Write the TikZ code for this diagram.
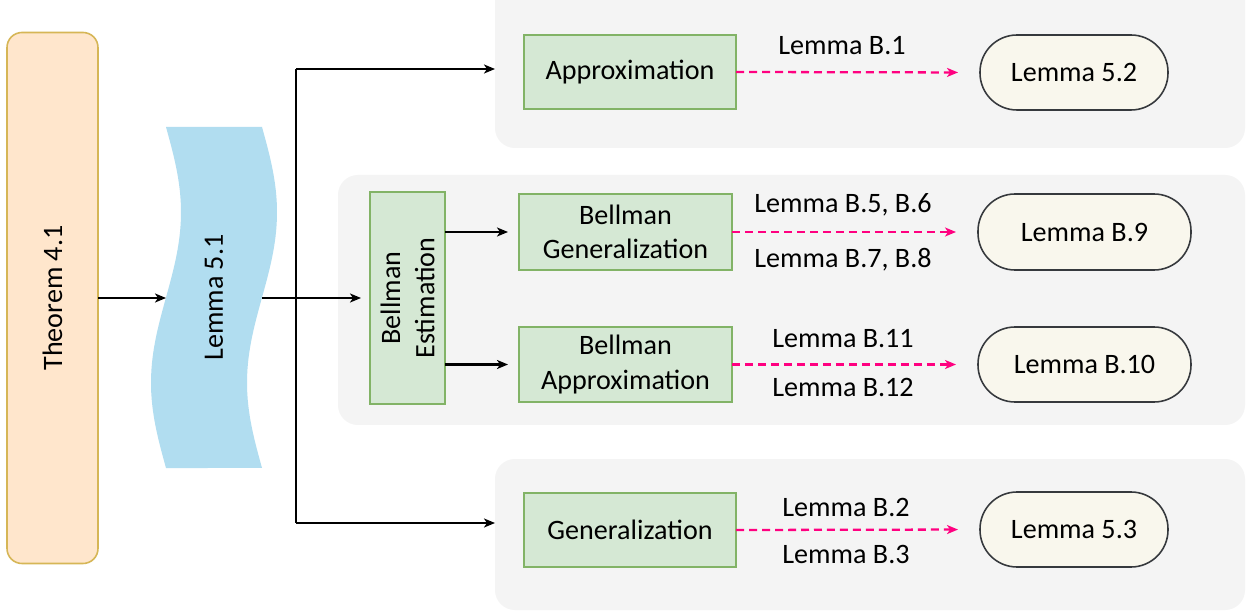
\documentclass[tikz,border=0pt]{standalone}
\usepackage{fontspec}
\setmainfont{Carlito}
\usetikzlibrary{arrows.meta}
\definecolor{grpF}{HTML}{F4F4F4}
\definecolor{grnF}{HTML}{D5E8D4}
\definecolor{grnD}{HTML}{82B366}
\definecolor{ovF}{HTML}{F9F7ED}
\definecolor{ovD}{HTML}{36393D}
\definecolor{thF}{HTML}{FFE6CC}
\definecolor{thD}{HTML}{D6B656}
\definecolor{blu}{HTML}{B1DDF0}
\definecolor{pnk}{HTML}{FF0080}
\begin{document}
\begin{tikzpicture}[x=0.02cm,y=-0.02cm,
  every node/.style={font=\fontsize{16}{19.5}\selectfont, inner sep=0pt, outer sep=0pt},
  grp/.style={fill=grpF, draw=none, rounded corners=0.4cm},
  grnbox/.style={draw=grnD, fill=grnF, line width=0.9pt, align=center},
  oval/.style={draw=ovD, fill=ovF, line width=0.9pt, rounded corners=0.74cm, align=center},
  thmbox/.style={draw=thD, fill=thF, line width=0.9pt, rounded corners=0.3cm},
  conn/.style={line width=1.3pt, black},
  arr/.style={conn, -{Stealth[length=0.22cm, width=0.18cm, inset=0.06cm]}},
  darr/.style={line width=1.3pt, pnk, dash pattern=on 0.16cm off 0.1cm,
     -{Stealth[length=0.22cm, width=0.18cm, inset=0.06cm]}},
  lbl/.style={anchor=center}
]
\clip (0,0) rectangle (1250,614);
\fill[white] (0,0) rectangle (1250,614);

% group backgrounds
\path[grp] (495,-40) rectangle (1245,148);
\path[grp] (338,175) rectangle (1245,425);
\path[grp] (495,459) rectangle (1245,610);

% Theorem 4.1
\node[thmbox, minimum width=91*0.02cm, minimum height=531*0.02cm] (thm) at (52.5,298) {};
\node[rotate=90] (thmt) at (thm.center) {Theorem 4.1};

% Lemma 5.1 wave band
\fill[blu] (166,127) -- (262,127)
  -- plot[domain=127:468, samples=60, variable=\t] ({262+15*sin((\t-127)/341*360)},\t)
  -- (166,468)
  -- plot[domain=468:127, samples=60, variable=\t] ({166+15*sin((\t-127)/341*360)},\t)
  -- cycle;
\node[minimum width=96*0.02cm, minimum height=341*0.02cm] (lem51) at (214,298) {};
\node[rotate=90] (lem51t) at (214,297.5) {Lemma 5.1};

% green boxes
\node[grnbox, minimum width=212*0.02cm, minimum height=74*0.02cm] (appr) at (630,72) {Approximation};
\node[grnbox, minimum width=75*0.02cm, minimum height=212*0.02cm] (best) at (407.5,298) {};
\node[rotate=90, align=center] (bestt) at (best.center) {Bellman\\Estimation};
\node[grnbox, minimum width=213*0.02cm, minimum height=76*0.02cm] (bgen) at (625.5,232) {Bellman\\Generalization};
\node[grnbox, minimum width=213*0.02cm, minimum height=75*0.02cm] (bapp) at (625.5,364.5) {Bellman\\Approximation};
\node[grnbox, minimum width=212*0.02cm, minimum height=74*0.02cm] (gen) at (630,530) {Generalization};

% result ovals
\node[oval, minimum width=188*0.02cm, minimum height=75*0.02cm] (l52) at (1074,72.5) {Lemma 5.2};
\node[oval, minimum width=213*0.02cm, minimum height=76*0.02cm] (lb9) at (1084.5,232) {Lemma B.9};
\node[oval, minimum width=213*0.02cm, minimum height=75*0.02cm] (lb10) at (1084.5,364.5) {Lemma B.10};
\node[oval, minimum width=188*0.02cm, minimum height=75*0.02cm] (l53) at (1074,529.5) {Lemma 5.3};

% junction coordinates
\coordinate (J) at (296,298);
\coordinate (jt) at (296,69);
\coordinate (jb) at (296,523);
\coordinate (ea) at (495,69);
\coordinate (eg) at (495,523);

% black connectors
\draw[arr] (thm.east) -- (lem51.west);
\draw[conn] (lem51.east) -- (J);
\draw[conn] (jt) -- (jb);
\draw[arr] (jt) -- (ea);
\draw[arr] (jb) -- (eg);
\draw[arr, shorten >=0.18cm] (J) -- (best.west);
\draw[arr, shorten >=0.22cm] (best.east |- bgen.west) -- (bgen.west);
\draw[arr, shorten >=0.22cm] (best.east |- bapp.west) -- (bapp.west);

% dashed pink connectors
\draw[darr, shorten >=0.44cm] (appr.east) -- (l52.west);
\draw[darr, shorten >=0.44cm] (bgen.east) -- (lb9.west);
\draw[darr, shorten >=0.44cm] (bapp.east) -- (lb10.west);
\draw[darr, shorten >=0.44cm] (gen.east) -- (l53.west);

% labels
\node[lbl] (tb1) at (842,46) {Lemma B.1};
\node[lbl] (tb56) at (843,205) {Lemma B.5, B.6};
\node[lbl] (tb78) at (843,260) {Lemma B.7, B.8};
\node[lbl] (tb11) at (843,339) {Lemma B.11};
\node[lbl] (tb12) at (843,387) {Lemma B.12};
\node[lbl] (tb2) at (846,507) {Lemma B.2};
\node[lbl] (tb3) at (846,554) {Lemma B.3};
\end{tikzpicture}
\end{document}
